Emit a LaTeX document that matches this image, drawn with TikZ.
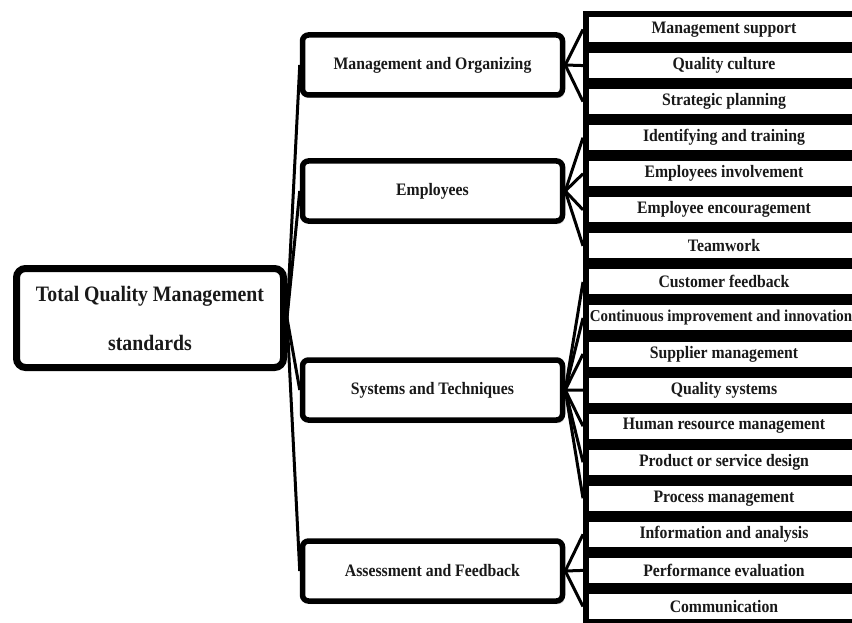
\documentclass[tikz,border=0pt]{standalone}
\usepackage{fontspec}
\setmainfont{Liberation Serif}[FakeStretch=0.9]
\usetikzlibrary{shadows,backgrounds}
\begin{document}
\begin{tikzpicture}[x=1pt,y=-1pt,
  softshadow/.style={drop shadow={opacity=0.4, shadow xshift=2pt, shadow yshift=-3pt}},
  rootbox/.style={draw=black, fill=white, line width=7pt, rounded corners=9pt,
    minimum width=267pt, minimum height=99pt, inner sep=0pt, align=center,
    font=\fontsize{22}{49}\selectfont\bfseries, text=black!90, softshadow},
  midbox/.style={draw=black, fill=white, line width=5.5pt, rounded corners=6pt,
    minimum width=260pt, minimum height=60pt, inner sep=0pt,
    font=\fontsize{17.5}{20}\selectfont\bfseries, text=black!90, softshadow},
  leafbox/.style={draw=black, fill=white, line width=6pt,
    minimum width=276pt, minimum height=31pt, inner sep=0pt,
    font=\fontsize{17.5}{20}\selectfont\bfseries, text=black!90},
  link/.style={line width=3pt, draw=black}]
\useasboundingbox (0,0) rectangle (852,623);
\clip (0,0) rectangle (852,623);

\node[rootbox] (root) at (150,318) {Total Quality Management\\standards};

\node[midbox] (m1) at (432.5,65) {Management and Organizing};
\node[midbox] (m2) at (432.5,191) {Employees};
\node[midbox] (m3) at (432.5,390) {Systems and Techniques};
\node[midbox] (m4) at (432.5,571) {Assessment and Feedback};

\foreach \t [count=\i from 0] in {Management support, Quality culture, Strategic planning,
  Identifying and training, Employees involvement, Employee encouragement, Teamwork,
  Customer feedback, {\makebox[0pt]{\fontsize{16.6}{20}\selectfont\hspace*{-6pt}Continuous improvement and innovation}}, Supplier management,
  Quality systems, Human resource management, Product or service design,
  Process management, Information and analysis, Performance evaluation, Communication}
  \node[leafbox] (l\i) at (724,{29.5+36.06*\i}) {\t};

\begin{scope}[on background layer]
  \foreach \m in {m1,m2,m3,m4} \draw[link] (root.east) -- (\m.west);
  \foreach \i in {0,1,2} \draw[link] (m1.east) -- (l\i.west);
  \foreach \i in {3,4,5,6} \draw[link] (m2.east) -- (l\i.west);
  \foreach \i in {7,8,9,10,11,12,13} \draw[link] (m3.east) -- (l\i.west);
  \foreach \i in {14,15,16} \draw[link] (m4.east) -- (l\i.west);
\end{scope}
\end{tikzpicture}
\end{document}
